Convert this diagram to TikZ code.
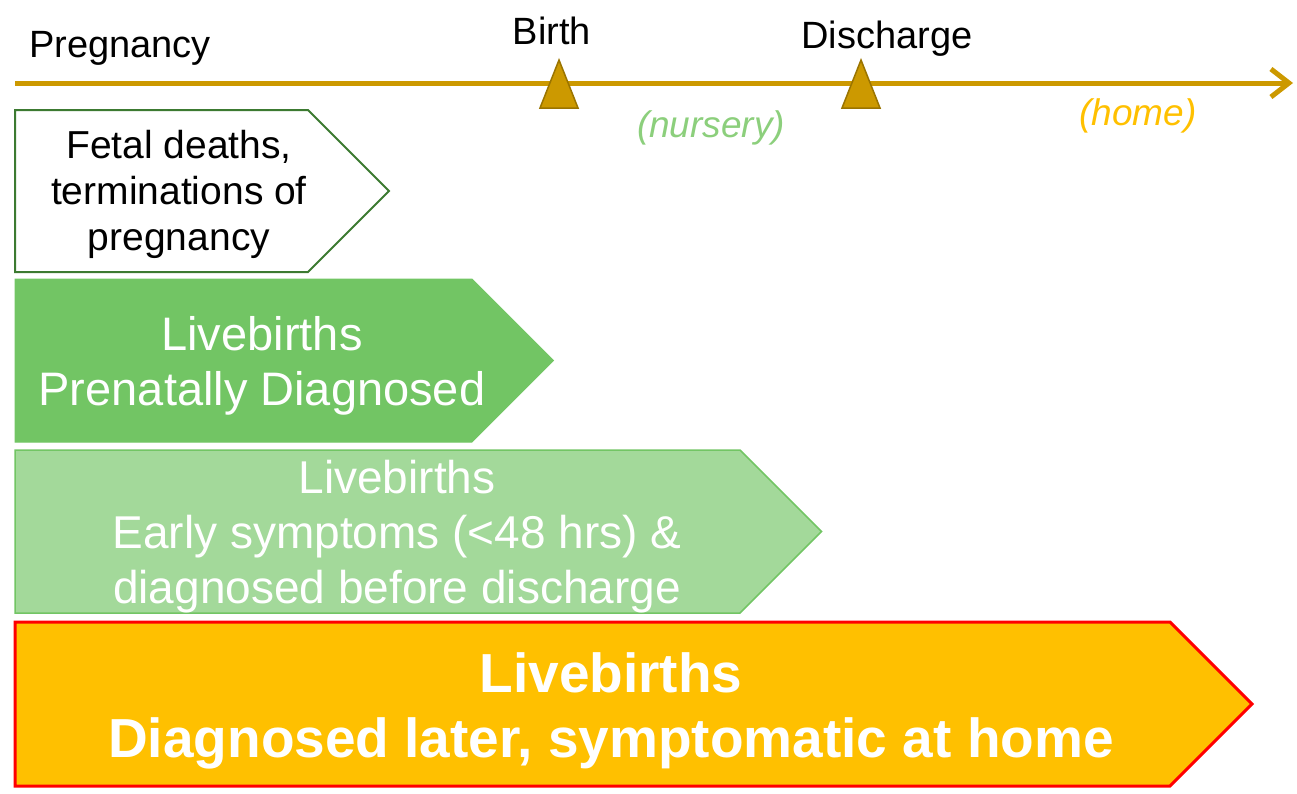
\documentclass[tikz,border=0pt]{standalone}
\usepackage{fontspec}
\setmainfont{Liberation Sans}
\usepackage{tikz}
\usetikzlibrary{arrows.meta}
\definecolor{timegold}{HTML}{CC9900}
\definecolor{tickbrown}{HTML}{9A7400}
\definecolor{fetalgreen}{HTML}{3C7A31}
\definecolor{prenatalgreen}{HTML}{72C564}
\definecolor{earlygreen}{HTML}{A3D99A}
\definecolor{nurserygreen}{HTML}{8CCF7C}
\definecolor{homeorange}{HTML}{FFC000}
\newcommand{\stage}[4]{% end of the straight part, top, bottom, style
	\filldraw[#4] (15,#2) -- (#1,#2) -- ({#1+(#3-#2)/2},{(#2+#3)/2}) -- (#1,#3) -- (15,#3) -- cycle;
}
\newcommand{\milestone}[1]{%
	\filldraw[fill=timegold,draw=tickbrown,line width=1.5pt] (#1-19,108) -- (#1,60) -- (#1+19,108) -- cycle;
}
\begin{document}
\begin{tikzpicture}[x=1pt,y=-1pt,
	timetext/.style={inner sep=0pt,anchor=base,font=\fontsize{38}{44}\selectfont},
	stagetext/.style={inner sep=0pt,align=center,text=white}]
	\useasboundingbox (0,0) rectangle (1297,793);
	% time line
	\coordinate (start) at (15,83);
	\coordinate (end) at (1293,83);
	\draw[timegold,line width=5pt,-{Straight Barb[length=18pt,width=28pt]}] (start) -- (end);
	\milestone{559}
	\milestone{861}
	\node[timetext] (pregnancy) at (120,57) {Pregnancy};
	\node[timetext] (birth) at (552,44) {Birth};
	\node[timetext] (discharge) at (887,48) {Discharge};
	\node[timetext,nurserygreen,font=\fontsize{37}{44}\selectfont\itshape] (nursery) at (711,137) {(nursery)};
	\node[timetext,homeorange,font=\fontsize{37}{44}\selectfont\itshape] (home) at (1138,125) {(home)};
	% stages
	\stage{308}{110}{272}{draw=fetalgreen,fill=white,line width=2pt}
	\stage{472}{279}{442}{draw=prenatalgreen,fill=prenatalgreen,line width=1pt}
	\stage{740}{450}{613}{draw=prenatalgreen,fill=earlygreen,line width=1.5pt}
	\stage{1170}{622}{786}{draw=red,fill=homeorange,line width=3pt}
	\node[stagetext,text=black,font=\fontsize{39}{46}\selectfont] (fetal) at (179,194) {Fetal deaths,\\terminations of\\pregnancy};
	\node[stagetext,font=\fontsize{47}{55}\selectfont] (prenatal) at (262,366) {Livebirths\\Prenatally Diagnosed};
	\node[stagetext,font=\fontsize{46}{55}\selectfont] (early) at (397,537) {Livebirths\\Early symptoms (<48 hrs) \&\\diagnosed before discharge};
	\node[stagetext,font=\fontsize{55}{65}\selectfont\bfseries] (later) at (611,711) {Livebirths\\Diagnosed later, symptomatic at home};
\end{tikzpicture}
\end{document}
